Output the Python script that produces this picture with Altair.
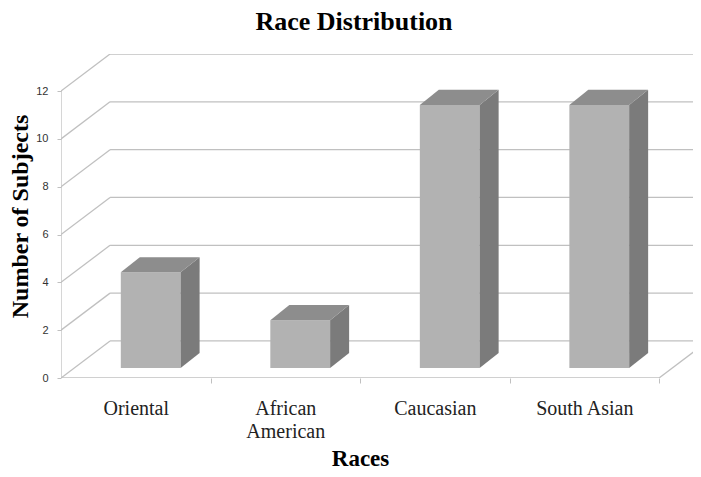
import json
import altair as alt
import pandas as pd

# ---- data ----
categories = ["Oriental", "African American", "Caucasian", "South Asian"]
counts = [4, 2, 11, 11]
y_ticks = [0, 2, 4, 6, 8, 10, 12]
x_tick_labels = [["Oriental"], ["African", "American"], ["Caucasian"], ["South Asian"]]

# ---- 3D geometry (in data units) ----
BAR_L, BAR_R = 0.40, 0.80
BAR_BASE = 0.42
BAR_DX, BAR_DY = 0.127, 0.63
WALL_DX, WALL_DY = 0.328, 1.55
X_MAX, Y_MAX = 4.227, 13.55

SERIF = "Liberation Serif"
GRID = "#c0c0c0"
n = len(categories)

xs = alt.Scale(domain=[0, X_MAX], nice=False, zero=False)
ys = alt.Scale(domain=[0, Y_MAX], nice=False, zero=False)

# gridlines on side and back walls, floor, front axis line
grid_rows = []
for v in y_ticks:
    grid_rows.append(dict(x=0, y=v, x2=WALL_DX, y2=v + WALL_DY))
    grid_rows.append(dict(x=WALL_DX, y=v + WALL_DY, x2=X_MAX, y2=v + WALL_DY))
grid_rows.append(dict(x=0, y=0, x2=n, y2=0))
grid_rows.append(dict(x=n, y=0, x2=n + WALL_DX, y2=WALL_DY))
grid_rows.append(dict(x=0, y=0, x2=0, y2=max(y_ticks)))
grid_df = pd.DataFrame(grid_rows)

front_df = pd.DataFrame([
    dict(cat=c, x=i + BAR_L, x2=i + BAR_R, y=BAR_BASE, y2=BAR_BASE + v)
    for i, (c, v) in enumerate(zip(categories, counts))
])
side_rows, top_rows = [], []
for i, (c, v) in enumerate(zip(categories, counts)):
    side_rows.append(dict(cat=c, x=i + BAR_R, lo=BAR_BASE, hi=BAR_BASE + v))
    side_rows.append(dict(cat=c, x=i + BAR_R + BAR_DX, lo=BAR_BASE + BAR_DY, hi=BAR_BASE + v + BAR_DY))
    top_rows.append(dict(cat=c, y=BAR_BASE + v, l=i + BAR_L, r=i + BAR_R))
    top_rows.append(dict(cat=c, y=BAR_BASE + v + BAR_DY, l=i + BAR_L + BAR_DX, r=i + BAR_R + BAR_DX))
side_df = pd.DataFrame(side_rows)
top_df = pd.DataFrame(top_rows)

# x axis: labels at band centers, ticks at band boundaries
label_vals = [i + 0.5 for i in range(n)]
tick_vals = [i + 1 for i in range(n)]
expr = "''"
for i in reversed(range(n)):
    expr = f"abs(datum.value - {label_vals[i]}) < 0.01 ? {json.dumps(x_tick_labels[i])} : " + expr

x_axis = alt.Axis(
    values=sorted(label_vals + tick_vals),
    labelExpr=expr,
    domain=False,
    grid=False,
    tickColor=GRID,
    tickSize=5,
    tickOpacity={"condition": {"test": "datum.value % 1 === 0", "value": 1}, "value": 0},
    labelFont=SERIF,
    labelFontSize=20,
    labelColor="#222222",
    labelPadding=15,
    labelLineHeight=23,
    labelAngle=0,
    title="Races",
    titleFont=SERIF,
    titleFontSize=23,
    titleFontWeight="bold",
    titleColor="#000000",
    titlePadding=6,
    titleX=299,
)
y_axis = alt.Axis(
    values=y_ticks,
    format="d",
    domain=False,
    grid=False,
    tickColor=GRID,
    tickSize=4,
    labelFont="Liberation Sans",
    labelFontSize=11,
    labelColor="#333333",
    labelPadding=9,
    title="Number of Subjects",
    titleFont=SERIF,
    titleFontSize=24,
    titleFontWeight="bold",
    titleColor="#000000",
    titlePadding=3,
)

grid = alt.Chart(grid_df).mark_rule(color=GRID, strokeWidth=1.3, clip=True).encode(
    x=alt.X("x:Q", scale=xs, axis=x_axis),
    y=alt.Y("y:Q", scale=ys, axis=y_axis),
    x2="x2:Q",
    y2="y2:Q",
)

front = alt.Chart(front_df).mark_rect(color="#b2b2b2").encode(
    x=alt.X("x:Q", scale=xs, axis=x_axis),
    x2="x2:Q",
    y=alt.Y("y:Q", scale=ys, axis=y_axis),
    y2="y2:Q",
)

side = alt.Chart(side_df).mark_area(color="#7b7b7b", orient="vertical").encode(
    x=alt.X("x:Q", scale=xs, axis=x_axis),
    y=alt.Y("lo:Q", scale=ys, axis=y_axis),
    y2="hi:Q",
    detail="cat:N",
)

top = alt.Chart(top_df).mark_area(color="#8d8d8d", orient="horizontal").encode(
    y=alt.Y("y:Q", scale=ys, axis=y_axis),
    x=alt.X("l:Q", scale=xs, axis=x_axis),
    x2="r:Q",
    detail="cat:N",
)

chart = alt.layer(grid, front, side, top).properties(
    width=632,
    height=324,
    autosize=alt.AutoSizeParams(type="none"),
    padding={"left": 53, "top": 46, "right": 0, "bottom": 91},
    title=alt.TitleParams(
        "Race Distribution",
        font=SERIF,
        fontSize=26,
        fontWeight="bold",
        color="#000000",
        anchor="middle",
        dx=-23,
        offset=19,
    ),
).configure(background="white").configure_view(strokeWidth=0)

chart.save("out.html", embed_options={"renderer": "svg", "actions": False})
